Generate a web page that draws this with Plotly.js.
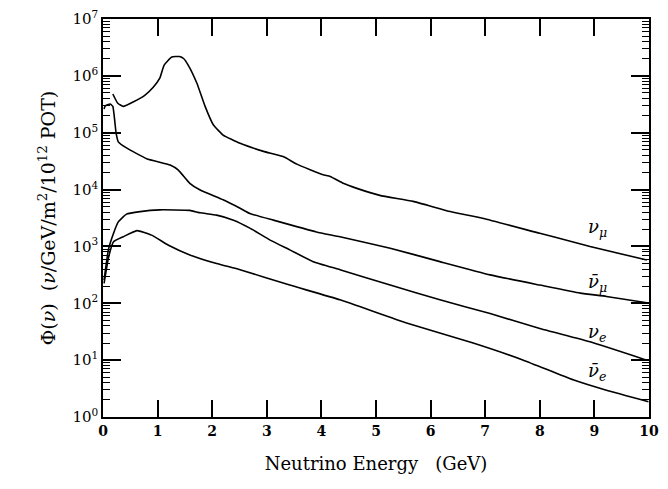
<!DOCTYPE html>
<html>
<head>
<meta charset="utf-8">
<script src="https://cdn.plot.ly/plotly-3.0.1.min.js"></script>
<style>html,body{margin:0;padding:0;background:#fff;}#chart{width:668px;height:489px;}</style>
</head>
<body>
<div id="chart"></div>
<script>
// nu_mu
const numuE = [0.18, 0.27, 0.37, 0.56, 0.77, 0.92, 1.04, 1.12, 1.26, 1.40, 1.48, 1.56, 1.72, 1.87, 2.02, 2.20, 2.51, 2.94, 3.30, 3.55, 4.03, 4.16, 4.40, 4.65, 5.07, 5.68, 6.36, 6.97, 8.0, 8.61, 8.92, 9.96];
const numuF = [4.8e5, 3.3e5, 2.9e5, 3.5e5, 4.6e5, 6.3e5, 9.1e5, 1.55e6, 2.14e6, 2.19e6, 2.0e6, 1.55e6, 7.4e5, 2.9e5, 1.38e5, 9.1e4, 6.5e4, 4.7e4, 3.8e4, 2.8e4, 1.82e4, 1.7e4, 1.29e4, 1.05e4, 7.9e3, 6.2e3, 4.1e3, 3.1e3, 1.7e3, 1.2e3, 1.0e3, 575];
// anti nu_mu
const anumuE = [0.02, 0.04, 0.13, 0.18, 0.24, 0.28, 0.43, 0.80, 1.23, 1.38, 1.59, 1.78, 2.20, 2.51, 2.69, 3.12, 3.91, 4.34, 5.26, 6.17, 7.09, 8.0, 8.74, 9.22, 9.96];
const anumuF = [2.6e5, 2.95e5, 3.2e5, 2.9e5, 9.8e4, 6.9e4, 5.4e4, 3.5e4, 2.7e4, 2.2e4, 1.29e4, 9.8e3, 6.6e3, 4.7e3, 3.8e3, 2.9e3, 1.8e3, 1.48e3, 930, 540, 316, 209, 151, 132, 102];
// nu_e
const nueE = [0.02, 0.1, 0.2, 0.28, 0.43, 0.68, 1.04, 1.59, 1.78, 2.08, 2.39, 2.69, 3.06, 3.42, 3.85, 4.34, 5.26, 6.17, 7.09, 8.0, 8.92, 9.93];
const nueF = [257, 890, 1780, 2700, 3700, 4100, 4400, 4300, 3900, 3550, 2900, 2100, 1290, 870, 540, 390, 209, 115, 66, 36, 21, 10.2];
// anti nu_e
const anueE = [0.02, 0.1, 0.19, 0.37, 0.62, 0.89, 1.20, 1.59, 2.08, 2.51, 3.42, 4.34, 5.56, 6.78, 7.70, 8.61, 9.22, 9.99];
const anueF = [224, 630, 1200, 1480, 1900, 1580, 1050, 710, 500, 390, 209, 115, 45, 20, 10, 4.5, 2.95, 1.86];

// axis ticks
const xTickVals = [0, 1, 2, 3, 4, 5, 6, 7, 8, 9, 10];
const yTickVals = [1, 10, 100, 1e3, 1e4, 1e5, 1e6, 1e7];
const yTickText = ['10<sup>0</sup>', '10<sup>1</sup>', '10<sup>2</sup>', '10<sup>3</sup>', '10<sup>4</sup>', '10<sup>5</sup>', '10<sup>6</sup>', '10<sup>7</sup>'];

const labelText = ['<i>ν</i><sub><i>μ</i></sub>', '<i>ν̄</i><sub><i>μ</i></sub>', '<i>ν</i><sub><i>e</i></sub>', '<i>ν̄</i><sub><i>e</i></sub>'];
const labelE = [9.05, 9.05, 9.05, 9.05];
const labelF = [2100, 230, 30, 6.2];

const line = {color: '#000', width: 1.6, shape: 'spline', smoothing: 0.4};
const traces = [
  {x: numuE, y: numuF, mode: 'lines', line: line},
  {x: anumuE, y: anumuF, mode: 'lines', line: line},
  {x: nueE, y: nueF, mode: 'lines', line: line},
  {x: anueE, y: anueF, mode: 'lines', line: line}
];

const serif = 'DejaVu Serif, Liberation Serif, serif';
const annotations = labelText.map((t, i) => ({
  x: labelE[i], y: Math.log10(labelF[i]), xref: 'x', yref: 'y', text: t,
  showarrow: false, font: {family: serif, size: 18, color: '#000'}
}));

const layout = {
  width: 668, height: 489,
  margin: {l: 103, r: 19, t: 19, b: 72},
  paper_bgcolor: '#fff', plot_bgcolor: '#fff',
  showlegend: false,
  xaxis: {
    range: [0, 10], tickmode: 'array', tickvals: xTickVals,
    showgrid: false, zeroline: false,
    showline: true, linecolor: '#000', linewidth: 1.5, mirror: 'allticks',
    ticks: 'inside', ticklen: 17, tickwidth: 1.5, tickcolor: '#000',
    tickfont: {family: serif, size: 14, color: '#000', weight: 'bold'},
    title: {text: 'Neutrino Energy   (GeV)', font: {family: serif, size: 18, color: '#000'}, standoff: 20}
  },
  yaxis: {
    type: 'log', range: [0, 7], tickmode: 'array', tickvals: yTickVals, ticktext: yTickText,
    showgrid: false, zeroline: false,
    showline: true, linecolor: '#000', linewidth: 1.5, mirror: 'allticks',
    ticks: 'inside', ticklen: 18, tickwidth: 1.5, tickcolor: '#000',
    tickfont: {family: serif, size: 15, color: '#000'},
    minor: {ticks: 'inside', ticklen: 7, tickwidth: 1, tickcolor: '#000', showgrid: false, dtick: 'D1'},
    title: {text: 'Φ(<i>ν</i>)  (<i>ν</i>/GeV/m<sup>2</sup>/10<sup>12</sup> POT)', font: {family: serif, size: 19, color: '#000'}, standoff: 12}
  },
  annotations: annotations
};

Plotly.newPlot('chart', traces, layout, {displayModeBar: false});
</script>
</body>
</html>
